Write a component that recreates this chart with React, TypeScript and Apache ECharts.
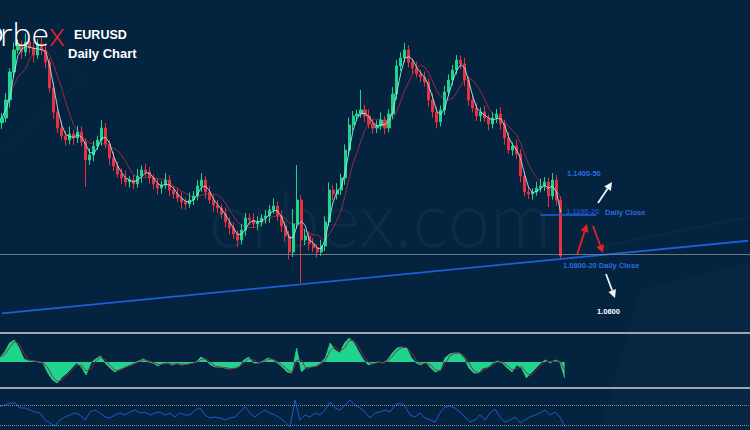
import React, { useEffect, useRef } from "react";
import * as echarts from "echarts";

// ---- Price data (EURUSD daily, sampled) ----
const firstOpen = 1.185;
const closes = [
  1.1888, 1.2032, 1.2256, 1.2432, 1.2472, 1.2416, 1.2496, 1.2448, 1.2392, 1.248,
  1.2432, 1.2336, 1.2128, 1.1936, 1.1808, 1.1744, 1.1712, 1.176, 1.1728, 1.1776,
  1.1696, 1.1552, 1.1592, 1.1664, 1.1712, 1.1808, 1.168, 1.1568, 1.1504, 1.144,
  1.1408, 1.1376, 1.1392, 1.136, 1.1424, 1.1472, 1.1456, 1.1408, 1.136, 1.1328,
  1.1352, 1.1392, 1.1312, 1.128, 1.1248, 1.1216, 1.12, 1.1232, 1.1264, 1.1344,
  1.1392, 1.1296, 1.1232, 1.1192, 1.1168, 1.112, 1.1056, 1.1008, 1.096, 1.0912,
  1.0992, 1.1088, 1.1072, 1.104, 1.1056, 1.1088, 1.1104, 1.1152, 1.1184, 1.1104,
  1.1024, 1.0944, 1.0816, 1.104, 1.1232, 1.0912, 1.0944, 1.088, 1.0848, 1.0816,
  1.0864, 1.1056, 1.1312, 1.128, 1.1312, 1.1408, 1.1632, 1.1832, 1.1904, 1.192,
  1.1952, 1.1904, 1.184, 1.1808, 1.1824, 1.1872, 1.1808, 1.192, 1.208, 1.2304,
  1.2368, 1.2432, 1.2336, 1.2288, 1.224, 1.2216, 1.2176, 1.2032, 1.1936, 1.1856,
  1.1952, 1.2096, 1.2192, 1.2272, 1.2352, 1.232, 1.2192, 1.2032, 1.1968, 1.1904,
  1.1936, 1.1888, 1.184, 1.1888, 1.192, 1.184, 1.1728, 1.1632, 1.1664, 1.16,
  1.1424, 1.1296, 1.128, 1.1296, 1.1328, 1.1344, 1.1376, 1.1264, 1.1392, 1.1232,
  1.0784,
];
// upper / lower wick lengths in pips
const wickUp = [
  40, 55, 30, 60, 45, 35, 70, 30, 50, 40, 65, 35, 25, 45, 30, 55, 40, 60, 35, 50,
  45, 30, 55, 40, 35, 64, 40, 30, 50, 35, 45, 60, 30, 40, 55, 35, 50, 40, 30, 45,
  35, 55, 40, 30, 50, 45, 35, 60, 40, 50, 55, 30, 45, 35, 40, 30, 50, 35, 45, 30,
  50, 40, 35, 55, 45, 30, 50, 40, 60, 35, 45, 30, 40, 120, 280, 40, 55, 35, 45, 30,
  50, 45, 60, 40, 55, 35, 45, 60, 40, 35, 160, 40, 55, 35, 45, 60, 30, 40, 55, 50,
  45, 56, 40, 30, 50, 35, 45, 30, 55, 40, 35, 50, 45, 40, 40, 35, 50, 30, 45, 40,
  35, 50, 30, 45, 40, 55, 35, 45, 30, 50, 40, 35, 45, 30, 50, 60, 40, 35, 55, 40,
  30,
];
const wickDown = [
  50, 35, 60, 40, 30, 55, 35, 45, 60, 30, 40, 50, 35, 55, 40, 30, 45, 35, 55, 40,
  35, 216, 40, 50, 30, 45, 35, 55, 40, 30, 50, 35, 45, 40, 30, 55, 35, 45, 40, 50,
  45, 30, 50, 40, 35, 55, 45, 30, 40, 35, 45, 50, 30, 55, 40, 35, 45, 50, 40, 56,
  35, 45, 40, 30, 50, 35, 45, 55, 30, 40, 50, 45, 60, 40, 35, 344, 40, 50, 35, 45,
  30, 40, 35, 50, 45, 40, 55, 35, 45, 40, 30, 50, 35, 45, 40, 30, 50, 35, 40, 45,
  40, 35, 45, 50, 30, 40, 35, 55, 45, 50, 35, 40, 30, 45, 35, 40, 50, 45, 35, 40,
  45, 30, 50, 35, 40, 45, 55, 30, 45, 40, 50, 35, 40, 45, 30, 35, 40, 88, 30, 45,
  16,
];
const categoryCount = 188;

// ---- Levels ----
const supportLevel = 1.0816;
const resistanceLevel = 1.1112;
const resistanceFrom = 135;
const resistanceTo = 149;
const trendStart = [0, 1.0325];
const trendEnd = [187, 1.0906];

// ---- Oscillator panel ----
const oscValues = [
  5, 10, 19, 22, 14, 3, 1, 1, 0, -1, -11, -18, -21, -15, -11, -6, -1, -5, -13, -1,
  3, 6, -1, -6, -10, -7, -5, -3, -1, 1, 3, 0, -1, -4, -1, -1, -3, -1, -3, -2,
  -1, 0, 5, 2, -3, -5, -5, -6, -7, -6, -4, 2, 5, -1, -1, 1, 4, 2, -1, -5,
  -10, -11, 14, -10, -5, -5, -4, -1, 4, 19, 12, 9, 19, 24, 19, 10, 2, -3, -1, 0,
  -1, 2, 9, 14, 15, 14, 4, -1, -3, 0, -6, -10, -8, 4, 8, 9, 9, 4, -6, -11,
  -11, -6, -5, -1, 1, -1, -6, -10, -3, -6, -16, -11, -6, -1, 2, -1, 2, 0, -16,
];
// ---- RSI-style panel ----
const rsiValues = [
  67, 70, 74, 74, 64, 64, 60, 56, 54, 40, 34, 28, 40, 46, 50, 54, 50, 40, 56, 60,
  54, 46, 44, 50, 54, 50, 56, 60, 54, 56, 50, 54, 56, 50, 54, 46, 54, 50, 50, 60,
  64, 50, 44, 46, 44, 40, 44, 46, 56, 66, 54, 46, 54, 60, 54, 50, 44, 36, 26, 80,
  40, 50, 46, 54, 50, 60, 76, 64, 60, 70, 80, 70, 64, 56, 44, 54,
  56, 60, 56, 70, 74, 68, 50, 46, 54, 44, 40, 36, 54, 66, 68, 64, 56, 46, 36, 40,
  50, 40, 54, 62, 46, 36, 40, 46, 34, 40, 46, 50, 54, 60, 50, 56, 46, 26,
];
const rsiBands = [70, 30];

const BG = "#03233f";
const UP = "#1fd48c";
const DOWN = "#e8303f";

function movingAverage(n: number) {
  return closes.map((_, i) => {
    const s = Math.max(0, i - n + 1);
    let sum = 0;
    for (let k = s; k <= i; k++) sum += closes[k];
    return +(sum / (i - s + 1)).toFixed(5);
  });
}

function arrow(x1: number, y1: number, x2: number, y2: number, color: string) {
  const dx = x2 - x1;
  const dy = y2 - y1;
  const len = Math.sqrt(dx * dx + dy * dy);
  const ux = dx / len;
  const uy = dy / len;
  const hl = 8;
  const hw = 4;
  const bx = x2 - ux * hl;
  const by = y2 - uy * hl;
  return {
    type: "group",
    z: 100,
    children: [
      {
        type: "line",
        shape: { x1, y1, x2: bx, y2: by },
        style: { stroke: color, lineWidth: 1.8 },
      },
      {
        type: "polygon",
        shape: {
          points: [
            [x2, y2],
            [bx - uy * hw, by + ux * hw],
            [bx + uy * hw, by - ux * hw],
          ],
        },
        style: { fill: color },
      },
    ],
  };
}

function label(text: string, x: number, y: number, fill: string, size = 7.5) {
  return {
    type: "text",
    x,
    y,
    z: 100,
    style: {
      text,
      fill,
      font: `bold ${size}px "Liberation Sans", Arial, sans-serif`,
      verticalAlign: "middle",
    },
  };
}

export default function App() {
  const ref = useRef<HTMLDivElement>(null);
  useEffect(() => {
    if (!ref.current) return;
    const chart = echarts.init(ref.current, null, { renderer: "svg" });
    const cats = Array.from({ length: categoryCount }, (_, i) => String(i));
    const candleData = closes.map((c, i) => {
      const o = i === 0 ? firstOpen : closes[i - 1];
      const hi = Math.max(o, c) + wickUp[i] / 10000;
      const lo = Math.min(o, c) - wickDown[i] / 10000;
      return [o, c, +lo.toFixed(5), +hi.toFixed(5)];
    });
    const signal = oscValues.map((v, k) => (k === 0 ? v : (v + oscValues[k - 1]) / 2));

    chart.setOption({
      animation: false,
      backgroundColor: BG,
      grid: [
        { left: 0, top: 0, width: 752, height: 332 },
        { left: 0, top: 336, width: 750, height: 51 },
        { left: 0, top: 390, width: 750, height: 40 },
      ],
      xAxis: [
        { type: "category", data: cats, gridIndex: 0, show: false, boundaryGap: true },
        { type: "value", gridIndex: 1, min: 0, max: 156.74, show: false },
        { type: "value", gridIndex: 2, min: 0, max: 150, show: false },
      ],
      yAxis: [
        { type: "value", gridIndex: 0, min: 1.0176, max: 1.2832, show: false },
        { type: "value", gridIndex: 1, min: -25, max: 26, show: false },
        { type: "value", gridIndex: 2, min: 20, max: 100, show: false },
      ],
      series: [
        {
          type: "candlestick",
          xAxisIndex: 0,
          yAxisIndex: 0,
          barWidth: 2.6,
          data: candleData,
          itemStyle: {
            color: UP,
            color0: DOWN,
            borderColor: UP,
            borderColor0: DOWN,
            borderWidth: 1,
          },
          markLine: {
            silent: true,
            symbol: ["none", "none"],
            label: { show: false },
            data: [
              [
                { coord: trendStart, lineStyle: { color: "#1d5fd8", width: 1.8, type: "solid" } },
                { coord: trendEnd },
              ],
              [
                { coord: [resistanceFrom, resistanceLevel], lineStyle: { color: "#2162d6", width: 1.5, type: "solid" } },
                { coord: [resistanceTo, resistanceLevel] },
              ],
              { yAxis: supportLevel, lineStyle: { color: "#7f8b98", width: 1, type: "solid", opacity: 0.8 } },
            ],
          },
        },
        {
          type: "line",
          xAxisIndex: 0,
          yAxisIndex: 0,
          data: movingAverage(3),
          symbol: "none",
          lineStyle: { color: "#a6e4ef", width: 1, opacity: 0.9 },
          z: 3,
        },
        {
          type: "line",
          xAxisIndex: 0,
          yAxisIndex: 0,
          data: movingAverage(7),
          symbol: "none",
          lineStyle: { color: "#c0303e", width: 1, opacity: 0.75 },
          z: 1,
        },
        {
          type: "line",
          xAxisIndex: 1,
          yAxisIndex: 1,
          data: oscValues.map((v, k) => [k, v]),
          symbol: "none",
          lineStyle: { color: UP, width: 0.8 },
          areaStyle: { color: UP, opacity: 1, origin: 0 },
        },
        {
          type: "line",
          xAxisIndex: 1,
          yAxisIndex: 1,
          data: signal.map((v, k) => [k, v]),
          symbol: "none",
          lineStyle: { color: "#8e2c45", width: 1 },
        },
        {
          type: "line",
          xAxisIndex: 2,
          yAxisIndex: 2,
          data: rsiValues.map((v, j) => [j, v]),
          symbol: "none",
          lineStyle: { color: "#1f58cc", width: 1 },
          markLine: {
            silent: true,
            symbol: ["none", "none"],
            label: { show: false },
            lineStyle: { color: "#7b8896", type: "dotted", width: 1 },
            data: rsiBands.map((b) => ({ yAxis: b })),
          },
        },
      ],
      graphic: [
        // background decoration
        {
          type: "polygon",
          z: -10,
          shape: { points: [[600, 430], [640, 290], [750, 262], [750, 430]] },
          style: { fill: "rgba(255,255,255,0.014)" },
        },
        {
          type: "polyline",
          z: -10,
          shape: { points: [[0, 153], [82, 80], [30, 30]] },
          style: { stroke: "rgba(255,255,255,0.05)", lineWidth: 1, fill: "none" },
        },
        {
          type: "line",
          z: -10,
          shape: { x1: 610, y1: 245, x2: 750, y2: 217 },
          style: { stroke: "rgba(255,255,255,0.05)", lineWidth: 1 },
        },
        {
          type: "text",
          z: -5,
          x: 380,
          y: 217,
          style: {
            text: "orbex.com",
            fill: "rgba(255,255,255,0.045)",
            font: '300 76px Lato, "Open Sans", sans-serif',
            align: "center",
            verticalAlign: "middle",
          },
        },
        // panel separators
        {
          type: "line",
          z: 50,
          shape: { x1: 0, y1: 333, x2: 750, y2: 333 },
          style: { stroke: "#9aa6b2", lineWidth: 2 },
        },
        {
          type: "line",
          z: 50,
          shape: { x1: 0, y1: 388, x2: 750, y2: 388 },
          style: { stroke: "#9aa6b2", lineWidth: 2 },
        },
        // logo & title (the "o" of the logo runs off the left edge)
        {
          type: "circle",
          z: 100,
          shape: { cx: -6.5, cy: 35, r: 8 },
          style: { stroke: "#ffffff", lineWidth: 2.2, fill: "none" },
        },
        {
          type: "text",
          z: 100,
          x: 0,
          y: 33,
          style: {
            text: "{a|rbe}{b|x}",
            verticalAlign: "middle",
            rich: {
              a: { fill: "#ffffff", font: '300 32px "Open Sans", Lato, sans-serif' },
              b: { fill: "#e3262e", font: '300 32px "Open Sans", Lato, sans-serif' },
            },
          },
        },
        label("EURUSD", 74, 35, "#ffffff", 12.5),
        label("Daily Chart", 68, 53, "#ffffff", 13),
        // annotations
        label("1.1400-50", 567, 173, "#2c6be0"),
        label("1.1100-20", 566, 211, "#1d50c8"),
        label("Daily Close", 605, 212, "#2c6be0"),
        label("1.0800-20 Daily Close", 563, 265, "#2c6be0"),
        label("1.0600", 597, 311, "#ffffff"),
        arrow(598, 203, 612, 182, "#f2f2f2"),
        arrow(577, 255, 587, 224, "#e8202a"),
        arrow(593, 226, 603, 253, "#e8202a"),
        arrow(606, 274, 615, 298, "#f2f2f2"),
      ],
    });
    return () => chart.dispose();
  }, []);
  return (
    <div
      ref={ref}
      style={{ position: "fixed", left: 0, top: 0, width: 750, height: 430 }}
    />
  );
}
